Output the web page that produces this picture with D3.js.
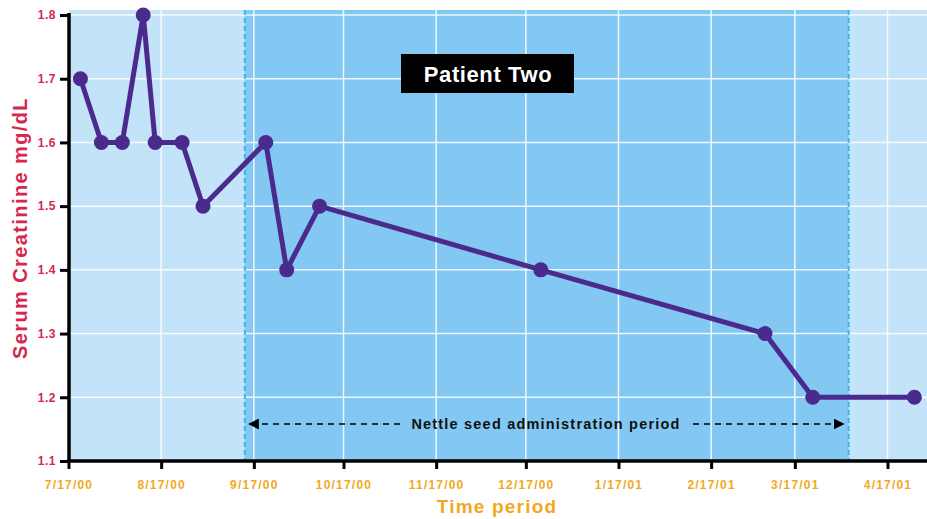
<!DOCTYPE html>
<meta charset="utf-8">
<script src="https://cdn.jsdelivr.net/npm/d3@7"></script>
<style>
  body { margin: 0; background: #fff; }
  svg { font-family: "Liberation Sans", Arial, sans-serif; }
</style>
<div id="wrapper"></div>
<script>
  // Data
  const dates = ["2000-07-21", "2000-07-28", "2000-08-04", "2000-08-11", "2000-08-15",
    "2000-08-24", "2000-08-31", "2000-09-21", "2000-09-28", "2000-10-09",
    "2000-12-22", "2001-03-07", "2001-03-23", "2001-04-26"];
  const creatinine = [1.7, 1.6, 1.6, 1.8, 1.6, 1.6, 1.5, 1.6, 1.4, 1.5, 1.4, 1.3, 1.2, 1.2];
  const xTicks = ["2000-07-17", "2000-08-17", "2000-09-17", "2000-10-17", "2000-11-17",
    "2000-12-17", "2001-01-17", "2001-02-17", "2001-03-17", "2001-04-17"];
  const yTicks = [1.1, 1.2, 1.3, 1.4, 1.5, 1.6, 1.7, 1.8];
  const nettlePeriod = ["2000-09-14", "2001-04-04"];

  const parse = d3.timeParse("%Y-%m-%d");
  const fmt = d3.timeFormat("%-m/%-d/%y");
  const data = dates.map((d, i) => ({ date: parse(d), value: creatinine[i] }));

  const W = 927, H = 519;
  const pLeft = 69, pRight = 927, pTop = 10, pBottom = 461;

  const svg = d3.select("#wrapper")
    .append("svg")
    .attr("width", W)
    .attr("height", H);

  const x = d3.scaleTime()
    .domain([parse("2000-07-17"), parse("2001-04-17")])
    .range([68.5, 887.5]);

  const y = d3.scaleLinear()
    .domain([1.1, 1.8])
    .range([pBottom, 15]);

  // backgrounds
  svg.append("rect")
    .attr("x", pLeft).attr("y", pTop)
    .attr("width", pRight - pLeft).attr("height", pBottom - pTop)
    .attr("fill", "#c3e3f8");

  const x0 = x(parse(nettlePeriod[0])), x1 = x(parse(nettlePeriod[1]));
  svg.append("rect")
    .attr("x", x0).attr("y", pTop)
    .attr("width", x1 - x0).attr("height", pBottom - pTop)
    .attr("fill", "#82c8f2");

  // grid
  const grid = svg.append("g").attr("stroke", "#ffffff").attr("stroke-opacity", 0.85).attr("stroke-width", 1.5);
  grid.selectAll(".gy").data(yTicks.slice(1)).join("line")
    .attr("x1", pLeft).attr("x2", pRight)
    .attr("y1", d => y(d)).attr("y2", d => y(d));
  grid.selectAll(".gx").data(xTicks.slice(1)).join("line")
    .attr("x1", d => x(parse(d))).attr("x2", d => x(parse(d)))
    .attr("y1", pTop).attr("y2", pBottom);

  // period edges
  svg.selectAll(".edge").data([x0, x1]).join("line")
    .attr("x1", d => d).attr("x2", d => d)
    .attr("y1", pTop).attr("y2", pBottom)
    .attr("stroke", "#3bb6e8").attr("stroke-width", 2)
    .attr("stroke-dasharray", "5,3");

  // title box
  const tb = svg.append("g");
  tb.append("rect")
    .attr("x", 401).attr("y", 54).attr("width", 173).attr("height", 39)
    .attr("fill", "#000");
  tb.append("text")
    .attr("x", 488).attr("y", 82)
    .attr("text-anchor", "middle")
    .attr("fill", "#fff")
    .attr("font-size", 22).attr("font-weight", "bold")
    .attr("letter-spacing", 0.6)
    .text("Patient Two");

  // period annotation
  const ay = 424;
  svg.append("defs").append("marker")
    .attr("id", "arr")
    .attr("viewBox", "0 0 10 10")
    .attr("refX", 10).attr("refY", 5)
    .attr("markerWidth", 11).attr("markerHeight", 11)
    .attr("markerUnits", "userSpaceOnUse")
    .attr("orient", "auto")
    .append("path").attr("d", "M0,0L10,5L0,10Z").attr("fill", "#000");

  svg.append("line")
    .attr("x1", 400).attr("x2", x0 + 3)
    .attr("y1", ay).attr("y2", ay)
    .attr("stroke", "#000").attr("stroke-width", 1.3)
    .attr("stroke-dasharray", "6,5")
    .attr("marker-end", "url(#arr)");
  svg.append("line")
    .attr("x1", 693).attr("x2", x1 - 4)
    .attr("y1", ay).attr("y2", ay)
    .attr("stroke", "#000").attr("stroke-width", 1.3)
    .attr("stroke-dasharray", "6,5")
    .attr("marker-end", "url(#arr)");
  svg.append("text")
    .attr("x", 546).attr("y", ay + 5)
    .attr("text-anchor", "middle")
    .attr("font-size", 14.5).attr("font-weight", "bold")
    .attr("letter-spacing", 1.2)
    .attr("fill", "#111")
    .text("Nettle seed administration period");

  // line + points
  const line = d3.line().x(d => x(d.date)).y(d => y(d.value));
  svg.append("path")
    .datum(data)
    .attr("fill", "none")
    .attr("stroke", "#4b2a8e")
    .attr("stroke-width", 5)
    .attr("stroke-linejoin", "round")
    .attr("d", line);
  svg.selectAll(".pt").data(data).join("circle")
    .attr("cx", d => x(d.date))
    .attr("cy", d => y(d.value))
    .attr("r", 7.5)
    .attr("fill", "#4b2a8e");

  // axes
  const xAxis = svg.append("g")
    .attr("transform", `translate(0,${pBottom})`)
    .call(d3.axisBottom(x).tickValues(xTicks.map(parse)).tickFormat(fmt).tickSize(8).tickPadding(11));
  xAxis.select(".domain").remove();
  xAxis.append("line")
    .attr("x1", pLeft - 2).attr("x2", pRight)
    .attr("stroke", "#000").attr("stroke-width", 3.5);
  xAxis.selectAll(".tick line").attr("stroke", "#000").attr("stroke-width", 3);
  xAxis.selectAll(".tick text")
    .attr("fill", "#f2a81d")
    .attr("font-size", 12).attr("font-weight", "bold")
    .attr("letter-spacing", 1.2)
    .attr("font-family", "'Liberation Sans', Arial, sans-serif");

  const yAxis = svg.append("g")
    .attr("transform", `translate(${pLeft},0)`)
    .call(d3.axisLeft(y).tickValues(yTicks).tickFormat(d3.format(".1f")).tickSize(9).tickPadding(4));
  yAxis.select(".domain").remove();
  yAxis.append("line")
    .attr("y1", pTop + 3).attr("y2", pBottom + 1.5)
    .attr("stroke", "#000").attr("stroke-width", 3.5);
  yAxis.selectAll(".tick line").attr("stroke", "#000").attr("stroke-width", 3);
  yAxis.selectAll(".tick text")
    .attr("fill", "#d5284c")
    .attr("font-size", 12).attr("font-weight", "bold")
    .attr("letter-spacing", 0.5)
    .attr("font-family", "'Liberation Sans', Arial, sans-serif");

  // axis titles
  svg.append("text")
    .attr("transform", "translate(27,228) rotate(-90)")
    .attr("text-anchor", "middle")
    .attr("fill", "#d5284c")
    .attr("font-size", 20).attr("font-weight", "bold")
    .attr("letter-spacing", 1.4)
    .text("Serum Creatinine mg/dL");

  svg.append("text")
    .attr("x", 497).attr("y", 513)
    .attr("text-anchor", "middle")
    .attr("fill", "#f2a81d")
    .attr("font-size", 19).attr("font-weight", "bold")
    .attr("letter-spacing", 1.2)
    .text("Time period");
</script>
